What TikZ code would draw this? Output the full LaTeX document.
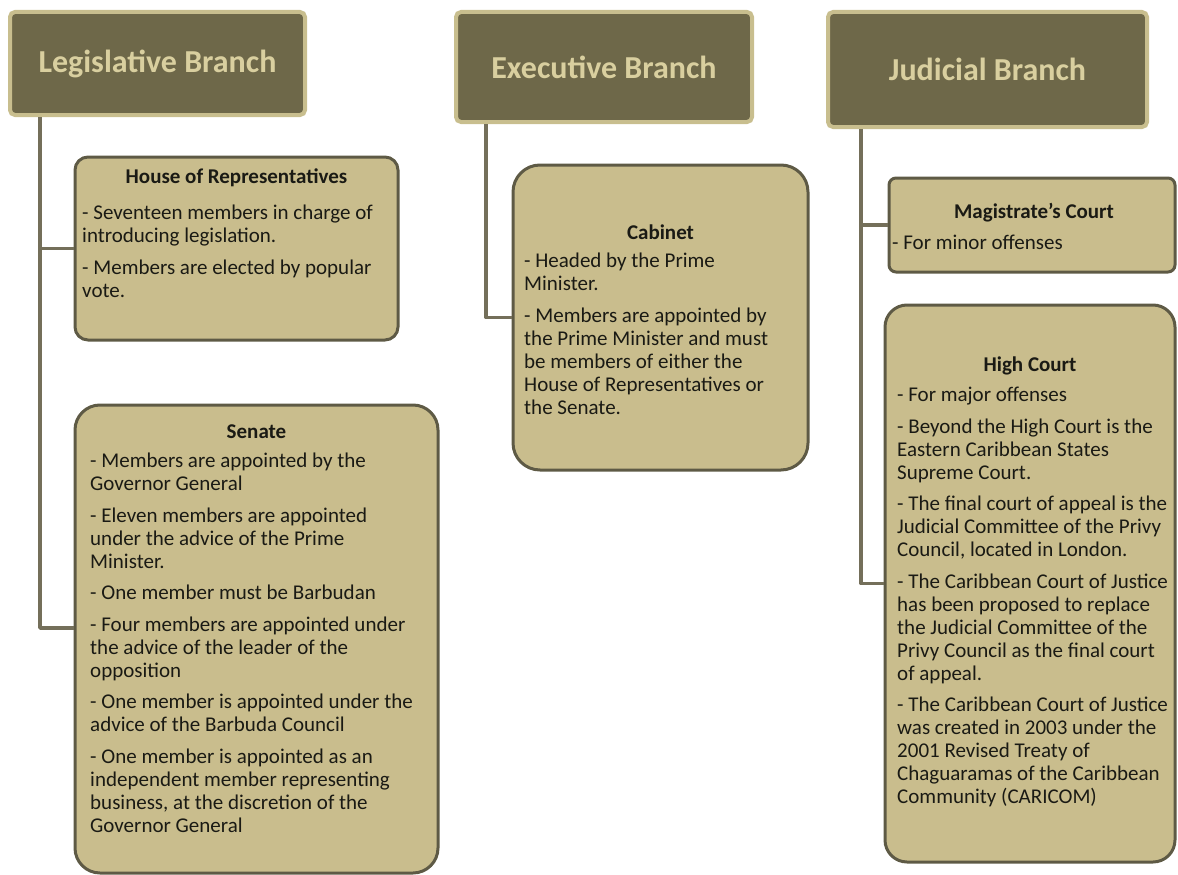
\documentclass[tikz,border=0pt]{standalone}
\usepackage{fontspec}
\setmainfont{Carlito}
\definecolor{hdrfill}{HTML}{6E6849}
\definecolor{hdredge}{HTML}{C8BE8E}
\definecolor{hdrtext}{HTML}{D9CF9F}
\definecolor{boxfill}{HTML}{C9BD8D}
\definecolor{boxedge}{HTML}{5E5A45}
\definecolor{connc}{HTML}{746F5A}
\definecolor{textc}{HTML}{1A1A14}
\begin{document}
\begin{tikzpicture}[x=1pt,y=-1pt,
  hdr/.style={draw=hdredge, fill=hdrfill, line width=4pt, rounded corners=5pt,
    text=hdrtext, font=\fontsize{32}{36}\selectfont\bfseries, inner sep=0pt},
  infobox/.style={draw=boxedge, fill=boxfill, line width=3pt, inner sep=0pt},
  ttl/.style={font=\fontsize{21}{23}\selectfont\bfseries, text=textc, inner sep=0pt},
  body/.style={font=\fontsize{21}{23}\selectfont, text=textc, align=left,
    inner sep=0pt, anchor=north west},
  conn/.style={draw=connc, line width=3.5pt, line join=round}]
\useasboundingbox (0,0) rectangle (1178,875);

% headers
\node[hdr, minimum width=295pt, minimum height=103pt] (legH) at (157.5,63.5) {Legislative Branch};
\node[hdr, minimum width=296pt, minimum height=110pt] (exH) at (604,67) {Executive Branch};
\node[hdr, minimum width=319pt, minimum height=115pt] (juH) at (987.5,69.5) {Judicial Branch};

% boxes
\node[infobox, rounded corners=13pt, minimum width=323pt, minimum height=183pt] (house) at (236.5,248.5) {};
\node[infobox, rounded corners=25pt, minimum width=363pt, minimum height=468pt] (senate) at (256.5,639) {};
\node[infobox, rounded corners=27pt, minimum width=295pt, minimum height=305pt] (cab) at (660.5,317.5) {};
\node[infobox, rounded corners=7pt, minimum width=286pt, minimum height=94pt] (mag) at (1032,225) {};
\node[infobox, rounded corners=22pt, minimum width=290pt, minimum height=557pt] (high) at (1030,583.5) {};

% connectors
\coordinate (legX) at (40,0);
\coordinate (exX) at (486,0);
\coordinate (juX) at (861,0);
\coordinate (senJ) at ([yshift=11pt]senate.west);
\draw[conn] (legX |- legH.south) -- (legX |- senJ) -- (senJ);
\draw[conn] (legX |- house.west) -- (house.west);
\draw[conn] (exX |- exH.south) |- (cab.west);
\draw[conn] (juX |- juH.south) |- (high.west);
\draw[conn] (juX |- mag.west) -- (mag.west);

% House of Representatives
\node[ttl] (houseT) at (236.5,178) {House of Representatives};
\node[body] (houseB) at (82,205) {- Seventeen members in charge of\\
introducing legislation.\\[8.5pt]
- Members are elected by popular\\
vote.};

% Senate
\node[ttl] (senT) at (256.5,432) {Senate};
\node[body] (senB) at (90,453) {- Members are appointed by the\\Governor General\\[8.5pt]
- Eleven members are appointed\\under the advice of the Prime\\Minister.\\[8.5pt]
- One member must be Barbudan\\[8.5pt]
- Four members are appointed under\\the advice of the leader of the\\opposition\\[8.5pt]
- One member is appointed under the\\advice of the Barbuda Council\\[8.5pt]
- One member is appointed as an\\independent member representing\\business, at the discretion of the\\Governor General};

% Cabinet
\node[ttl] (cabT) at (660.5,232) {Cabinet};
\node[body] (cabB) at (524,253) {- Headed by the Prime\\Minister.\\[8.5pt]
- Members are appointed by\\the Prime Minister and must\\be members of either the\\House of Representatives or\\the Senate.};

% Magistrate's Court
\node[ttl] (magT) at (1034,213) {Magistrate’s Court};
\node[body] (magB) at (892,235) {- For minor offenses};

% High Court
\node[ttl] (highT) at (1030,366) {High Court};
\node[body] (highB) at (897,387) {- For major offenses\\[8.5pt]
- Beyond the High Court is the\\Eastern Caribbean States\\Supreme Court.\\[8.5pt]
- The final court of appeal is the\\Judicial Committee of the Privy\\Council, located in London.\\[8.5pt]
- The Caribbean Court of Justice\\has been proposed to replace\\the Judicial Committee of the\\Privy Council as the final court\\of appeal.\\[8.5pt]
- The Caribbean Court of Justice\\was created in 2003 under the\\2001 Revised Treaty of\\Chaguaramas of the Caribbean\\Community (CARICOM)};
\end{tikzpicture}
\end{document}
